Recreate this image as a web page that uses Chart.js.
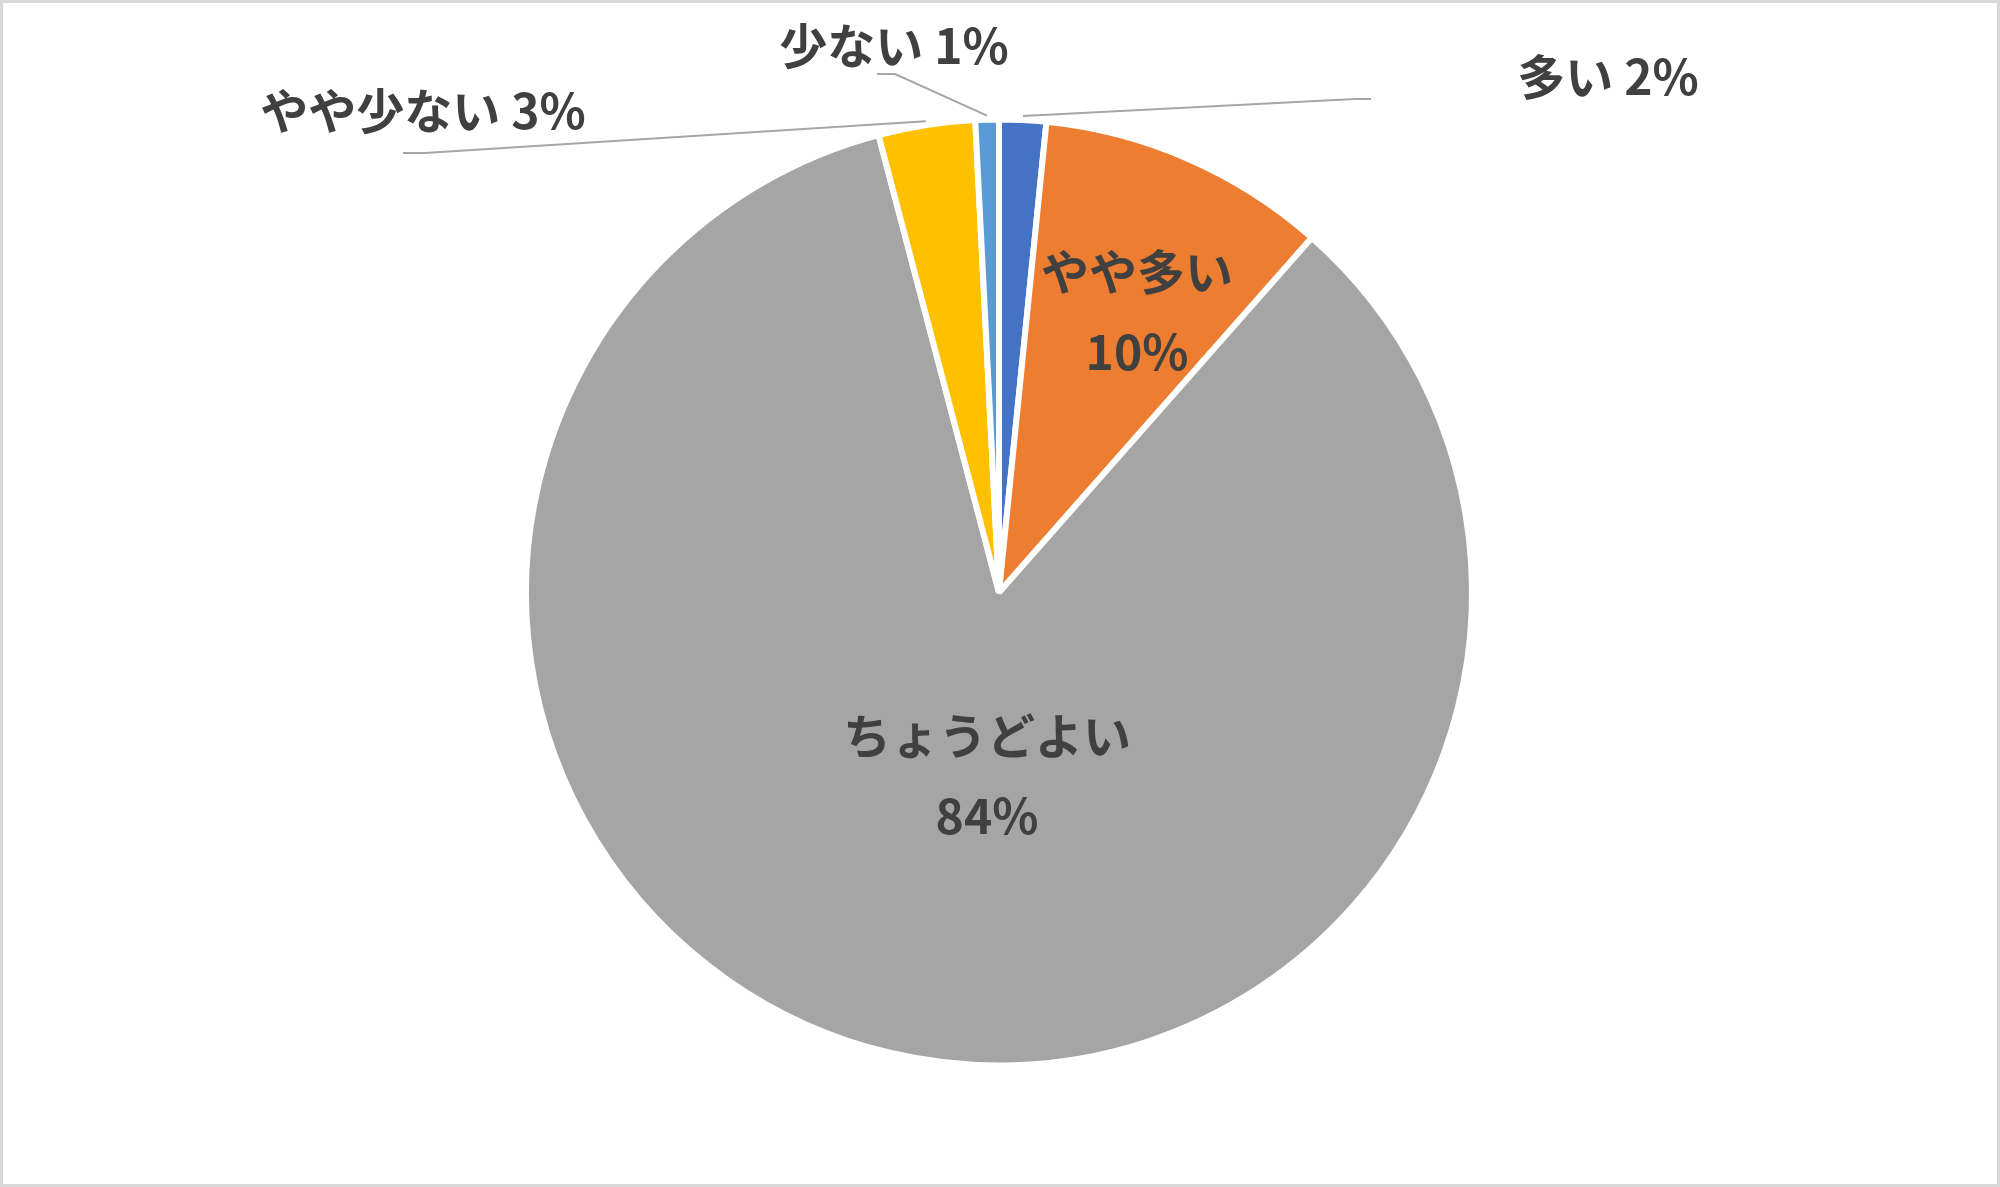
<!DOCTYPE html>
<html>
<head>
<meta charset="utf-8">
<script src="https://cdn.jsdelivr.net/npm/chart.js@4"></script>
<style>
  html, body { margin: 0; padding: 0; background: #fff; }
  canvas { display: block; }
</style>
</head>
<body>
<canvas id="pieChart" width="2000" height="1187"></canvas>
<script>
const categories = ['多い', 'やや多い', 'ちょうどよい', 'やや少ない', '少ない'];
const shares = [1.6, 9.9, 84.4, 3.3, 0.8];
const colors = ['#4472C4', '#ED7D31', '#A5A5A5', '#FFC000', '#5B9BD5'];

// where each label sits (px), and for outside labels the leader line bend
const labelStyle = [
  { x: 1608, y: 77, inside: false, bend: [1355, 99], end: [1371, 99] },
  { x: 1137, y: 272, inside: true },
  { x: 987, y: 736, inside: true },
  { x: 423, y: 111, inside: false, bend: [425, 153], end: [403, 153] },
  { x: 894, y: 46, inside: false, bend: [895, 74], end: [877, 74] }
];

const labelPlugin = {
  id: 'pieLabels',
  afterDraw(chart) {
    const ctx = chart.ctx;
    const arcs = chart.getDatasetMeta(0).data;
    ctx.save();
    ctx.font = 'bold 48px "Noto Sans CJK JP"';
    ctx.fillStyle = '#404040';
    ctx.textAlign = 'center';
    ctx.textBaseline = 'middle';
    arcs.forEach((arc, i) => {
      const s = labelStyle[i];
      const pct = Math.round(shares[i]) + '%';
      if (s.inside) {
        ctx.fillText(categories[i], s.x, s.y);
        ctx.fillText(pct, s.x, s.y + 80);
      } else {
        const p = arc.getProps(['x', 'y', 'startAngle', 'endAngle', 'outerRadius']);
        const mid = (p.startAngle + p.endAngle) / 2;
        const r = p.outerRadius + 4;
        ctx.strokeStyle = '#A6A6A6';
        ctx.lineWidth = 2;
        ctx.beginPath();
        ctx.moveTo(p.x + Math.cos(mid) * r, p.y + Math.sin(mid) * r);
        ctx.lineTo(s.bend[0], s.bend[1]);
        ctx.lineTo(s.end[0], s.end[1]);
        ctx.stroke();
        ctx.fillText(categories[i] + ' ' + pct, s.x, s.y);
      }
    });
    // chart frame
    ctx.strokeStyle = '#D9D9D9';
    ctx.lineWidth = 3;
    ctx.strokeRect(1.5, 1.5, chart.width - 3, chart.height - 3);
    ctx.restore();
  }
};

const ctx = document.getElementById('pieChart');

new Chart(ctx, {
  type: 'pie',
  data: {
    labels: categories,
    datasets: [
      {
        data: shares,
        backgroundColor: colors,
        borderColor: '#FFFFFF',
        borderWidth: 6
      }
    ]
  },
  options: {
    responsive: false,
    animation: false,
    layout: { padding: { top: 116, bottom: 118, left: 523, right: 525 } },
    plugins: {
      legend: { display: false },
      tooltip: { enabled: false }
    }
  },
  plugins: [labelPlugin]
});
</script>
</body>
</html>
